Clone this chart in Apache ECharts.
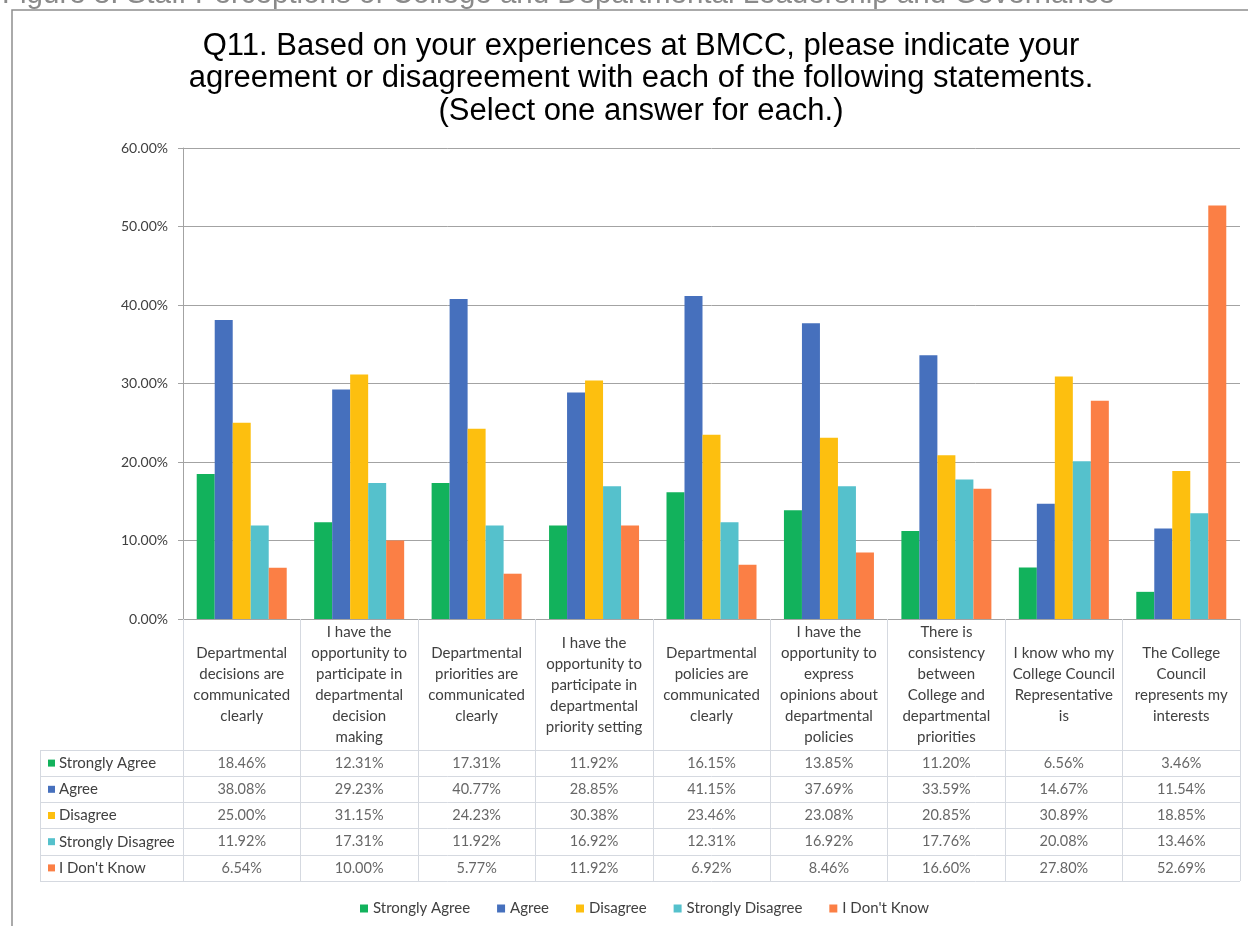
<!DOCTYPE html>
<html>
<head>
<meta charset="utf-8">
<script src="https://cdn.jsdelivr.net/npm/echarts@6/dist/echarts.min.js"></script>
<style>
  html, body { margin: 0; padding: 0; background: #ffffff; }
  #chart { width: 1248px; height: 926px; }
</style>
</head>
<body>
<div id="chart"></div>
<script>
// Survey statements (line breaks as shown under the bars)
const categories = [
  'Departmental\ndecisions are\ncommunicated\nclearly',
  'I have the\nopportunity to\nparticipate in\ndepartmental\ndecision\nmaking',
  'Departmental\npriorities are\ncommunicated\nclearly',
  'I have the\nopportunity to\nparticipate in\ndepartmental\npriority setting',
  'Departmental\npolicies are\ncommunicated\nclearly',
  'I have the\nopportunity to\nexpress\nopinions about\ndepartmental\npolicies',
  'There is\nconsistency\nbetween\nCollege and\ndepartmental\npriorities',
  'I know who my\nCollege Council\nRepresentative\nis',
  'The College\nCouncil\nrepresents my\ninterests'
];

const seriesNames = ['Strongly Agree', 'Agree', 'Disagree', 'Strongly Disagree', "I Don't Know"];

// Percent of respondents per answer
const stronglyAgree    = [18.46, 12.31, 17.31, 11.92, 16.15, 13.85, 11.20, 6.56, 3.46];
const agree            = [38.08, 29.23, 40.77, 28.85, 41.15, 37.69, 33.59, 14.67, 11.54];
const disagree         = [25.00, 31.15, 24.23, 30.38, 23.46, 23.08, 20.85, 30.89, 18.85];
const stronglyDisagree = [11.92, 17.31, 11.92, 16.92, 12.31, 16.92, 17.76, 20.08, 13.46];
const dontKnow         = [6.54, 10.00, 5.77, 11.92, 6.92, 8.46, 16.60, 27.80, 52.69];

const yTicks = [0, 10, 20, 30, 40, 50, 60];

const chartTitle = 'Q11. Based on your experiences at BMCC, please indicate your\nagreement or disagreement with each of the following statements.\n(Select one answer for each.)';
const figureCaption = 'Figure 8. Staff Perceptions of College and Departmental Leadership and Governance';

const seriesValues = [stronglyAgree, agree, disagree, stronglyDisagree, dontKnow];
const colors = ['#12b25c', '#4670bd', '#fdbf0f', '#55c1cc', '#fb7f45'];

const pct = v => v.toFixed(2) + '%';

// Row header labels of the data table, each with its colour key
const rowRich = { t: { fontFamily: 'Lato', fontSize: 15, color: '#404040', padding: [0, 0, 0, 4] } };
colors.forEach((c, i) => {
  rowRich['m' + i] = { width: 7, height: 7, backgroundColor: c };
});

const barSeries = seriesNames.map((name, i) => ({
  name: name,
  type: 'bar',
  xAxisIndex: 0,
  yAxisIndex: 0,
  data: seriesValues[i],
  barWidth: 18,
  barGap: '0%',
  itemStyle: { color: colors[i] },
  emphasis: { disabled: true }
}));

// Values of the data table, placed in cells on the table's own axes
const cellData = [];
seriesValues.forEach((arr, r) => {
  arr.forEach((v, c) => cellData.push([c, r, v]));
});

const tableSeries = {
  name: 'table',
  type: 'scatter',
  xAxisIndex: 1,
  yAxisIndex: 1,
  symbolSize: 0,
  silent: true,
  data: cellData,
  label: {
    show: true,
    position: 'inside',
    formatter: p => pct(p.value[2]),
    fontFamily: 'Lato',
    fontSize: 14.5,
    color: '#404040'
  }
};

const lineGrey = '#a3a3a3';
const tableLine = '#d5d9e0';

const option = {
  animation: false,
  backgroundColor: '#ffffff',
  title: {
    text: chartTitle,
    left: 636,
    textAlign: 'center',
    top: 25,
    textStyle: {
      fontFamily: 'Liberation Sans',
      fontWeight: 'normal',
      fontSize: 31,
      lineHeight: 32.5,
      color: '#000000'
    }
  },
  legend: {
    data: seriesNames,
    left: 355,
    top: 896,
    icon: 'rect',
    itemWidth: 8,
    itemHeight: 8,
    itemGap: 27,
    textStyle: { fontFamily: 'Lato', fontSize: 15, color: '#404040' },
    selectedMode: false
  },
  graphic: [
    {
      type: 'text',
      left: 2,
      top: -20,
      silent: true,
      style: { text: figureCaption, font: '29.5px "Liberation Sans"', fill: '#8a8a8a' }
    },
    {
      type: 'rect',
      silent: true,
      shape: { x: 12, y: 10, width: 1260, height: 940 },
      style: { fill: 'none', stroke: '#8e8e8e', lineWidth: 1.5 }
    },
    {
      type: 'line',
      silent: true,
      shape: { x1: 40.5, y1: 750, x2: 40.5, y2: 881 },
      style: { stroke: tableLine, lineWidth: 1 }
    }
  ],
  grid: [
    { left: 183, right: 8, top: 148, bottom: 307 },
    { left: 183, right: 8, top: 750, bottom: 45 }
  ],
  xAxis: [
    {
      type: 'category',
      gridIndex: 0,
      data: categories,
      axisLine: { show: true, lineStyle: { color: lineGrey } },
      axisTick: { show: true, length: 131, interval: 0, lineStyle: { color: tableLine } },
      axisLabel: {
        interval: 0,
        margin: 66,
        verticalAlign: 'middle',
        lineHeight: 21,
        fontFamily: 'Lato',
        fontSize: 15,
        color: '#404040'
      }
    },
    {
      type: 'category',
      gridIndex: 1,
      data: categories,
      position: 'top',
      axisLine: { show: true, lineStyle: { color: tableLine } },
      axisTick: { show: false },
      axisLabel: { show: false },
      splitLine: { show: true, interval: 0, lineStyle: { color: tableLine } }
    }
  ],
  yAxis: [
    {
      type: 'value',
      gridIndex: 0,
      min: yTicks[0],
      max: yTicks[yTicks.length - 1],
      interval: 10,
      axisLine: { show: true, lineStyle: { color: lineGrey } },
      axisTick: { show: true, length: 5, lineStyle: { color: lineGrey } },
      axisLabel: {
        formatter: v => pct(v),
        fontFamily: 'Lato',
        fontSize: 14,
        color: '#404040',
        margin: 15
      },
      splitLine: { show: true, lineStyle: { color: lineGrey } }
    },
    {
      type: 'category',
      gridIndex: 1,
      inverse: true,
      data: seriesNames,
      axisLine: { show: true, lineStyle: { color: tableLine } },
      axisTick: { show: true, length: 143, interval: 0, lineStyle: { color: tableLine } },
      splitLine: { show: true, interval: 0, lineStyle: { color: tableLine } },
      axisLabel: {
        interval: 0,
        align: 'left',
        margin: 135,
        formatter: (v, i) => '{m' + i + '|}{t|' + v + '}',
        rich: rowRich
      }
    }
  ],
  series: barSeries.concat([tableSeries])
};

const chart = echarts.init(document.getElementById('chart'), null, { renderer: 'canvas' });
chart.setOption(option);
</script>
</body>
</html>
